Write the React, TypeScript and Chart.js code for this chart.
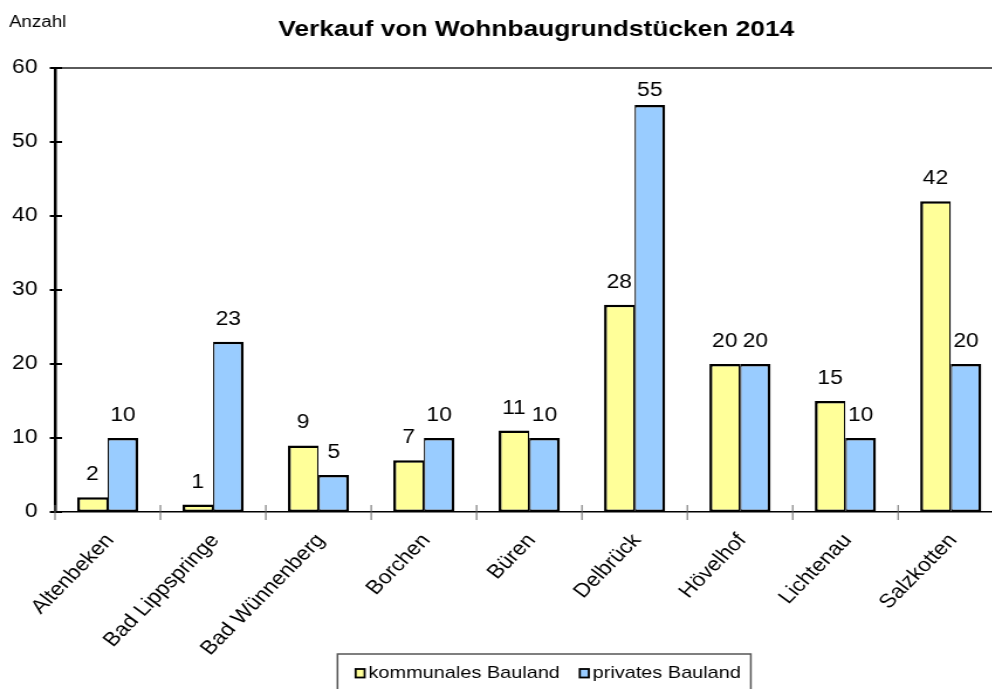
import React, { useEffect, useRef } from "react";
import { Chart, registerables } from "chart.js";

Chart.register(...registerables);

const categories = [
  "Altenbeken",
  "Bad Lippspringe",
  "Bad Wünnenberg",
  "Borchen",
  "Büren",
  "Delbrück",
  "Hövelhof",
  "Lichtenau",
  "Salzkotten",
];
const kommunalesBauland = [2, 1, 9, 7, 11, 28, 20, 15, 42];
const privatesBauland = [10, 23, 5, 10, 10, 55, 20, 10, 20];
const seriesNames = ["kommunales Bauland", "privates Bauland"];
const seriesColors = ["#FFFF99", "#99CCFF"];
const titleText = "Verkauf von Wohnbaugrundstücken 2014";
const yAxisTitle = "Anzahl";
const yMin = 0;
const yMax = 60;
const yStep = 10;

// horizontal stretch of the reference picture
const STRETCH = 1.17;
const W = 950;
const H = 700;
const PLOT_LEFT = 55 / STRETCH;
const PLOT_RIGHT = 1003 / STRETCH;
const FONT = '"Liberation Sans", Arial, Helvetica, sans-serif';
const LABEL_ROT = (49.5 * Math.PI) / 180;

const decoPlugin = {
  id: "deco",
  afterDraw(chart: any) {
    const { ctx, chartArea, scales } = chart;
    const { left, right, top, bottom } = chartArea;
    const x = scales.x;
    const y = scales.y;
    const line = (x1: number, y1: number, x2: number, y2: number) => {
      ctx.beginPath();
      ctx.moveTo(x1, y1);
      ctx.lineTo(x2, y2);
      ctx.stroke();
    };
    ctx.save();
    // top border of plot area
    ctx.strokeStyle = "#5a5a5a";
    ctx.lineWidth = 2;
    line(left, top, right, top);
    // y ticks crossing axis
    ctx.strokeStyle = "#000";
    ctx.lineWidth = 2;
    y.ticks.forEach((t: any) => {
      const py = y.getPixelForValue(t.value);
      line(left - 4.5, py, left + 6, py);
    });
    // x category ticks
    const n = categories.length;
    ctx.strokeStyle = "#666";
    ctx.lineWidth = 1;
    for (let i = 0; i <= n; i++) {
      const px = x.left + (i * x.width) / n;
      line(px, bottom - 7, px, bottom + 8);
    }
    // x category labels (rotated)
    ctx.fillStyle = "#000";
    ctx.font = `19.5px ${FONT}`;
    ctx.textAlign = "right";
    ctx.textBaseline = "middle";
    categories.forEach((c, i) => {
      const px = x.getPixelForValue(i);
      ctx.save();
      ctx.translate(px + 2, bottom + 25);
      ctx.rotate(-LABEL_ROT);
      ctx.fillText(c, 0, 0);
      ctx.restore();
    });
    // data labels
    ctx.font = `19.5px ${FONT}`;
    ctx.textAlign = "center";
    ctx.textBaseline = "alphabetic";
    chart.data.datasets.forEach((ds: any, di: number) => {
      const meta = chart.getDatasetMeta(di);
      meta.data.forEach((el: any, i: number) => {
        const yy = Math.max(el.y - 17, top + 28);
        ctx.fillText(String(ds.data[i]), el.x, yy);
      });
    });
    // title
    ctx.font = `bold 22.5px ${FONT}`;
    ctx.textAlign = "center";
    ctx.fillText(titleText, 536 / STRETCH, 36);
    // axis title
    ctx.font = `16px ${FONT}`;
    ctx.textAlign = "left";
    ctx.fillText(yAxisTitle, 9 / STRETCH, 27);
    // legend
    ctx.font = `17px ${FONT}`;
    ctx.textAlign = "left";
    ctx.textBaseline = "alphabetic";
    const markW = 7.7;
    const markH = 8.5;
    const markGap = 11;
    const itemGap = 17;
    const widths = seriesNames.map((s) => ctx.measureText(s).width);
    const total =
      widths.reduce((a, b) => a + b, 0) + seriesNames.length * markGap + itemGap * (seriesNames.length - 1);
    const center = 548 / STRETCH;
    let cx = center - total / 2;
    const startX = cx;
    const baseY = 677.5;
    seriesNames.forEach((s, i) => {
      ctx.fillStyle = seriesColors[i];
      ctx.fillRect(cx, baseY - markH, markW, markH);
      ctx.strokeStyle = "#000";
      ctx.lineWidth = 1.8;
      ctx.strokeRect(cx, baseY - markH, markW, markH);
      ctx.fillStyle = "#000";
      ctx.fillText(s, cx + markGap, baseY);
      cx += markGap + widths[i] + itemGap;
    });
    const endX = cx - itemGap;
    ctx.strokeStyle = "#555";
    ctx.lineWidth = 1.5;
    ctx.strokeRect(startX - 15.5, 654, endX + 8.5 - (startX - 15.5), H - 654 + 10);
    ctx.restore();
  },
};

export default function App() {
  const ref = useRef<HTMLCanvasElement | null>(null);
  useEffect(() => {
    if (!ref.current) return;
    const chart = new Chart(ref.current, {
      type: "bar",
      data: {
        labels: categories,
        datasets: [
          {
            label: seriesNames[0],
            data: kommunalesBauland,
            backgroundColor: seriesColors[0],
            borderColor: "#000",
            borderWidth: { top: 2.5, left: 2.5, right: 1.25, bottom: 2 } as any,
            borderSkipped: false,
            categoryPercentage: 0.58,
            barPercentage: 1,
          },
          {
            label: seriesNames[1],
            data: privatesBauland,
            backgroundColor: seriesColors[1],
            borderColor: "#000",
            borderWidth: { top: 2.5, left: 1.25, right: 2.5, bottom: 2 } as any,
            borderSkipped: false,
            categoryPercentage: 0.58,
            barPercentage: 1,
          },
        ],
      },
      options: {
        animation: false,
        responsive: false,
        maintainAspectRatio: false,
        devicePixelRatio: 1,
        layout: { padding: { top: 68, left: 0, right: 0, bottom: H - 646.5 } },
        plugins: {
          title: { display: false },
          tooltip: { enabled: false },
          legend: { display: false },
        },
        scales: {
          x: {
            grid: { display: true, drawOnChartArea: false, drawTicks: false },
            border: { display: true, color: "#000", width: 1.5 },
            ticks: { display: false },
            afterFit: (s: any) => {
              s.height = 134.5;
            },
          },
          y: {
            min: yMin,
            max: yMax,
            grid: { display: true, drawOnChartArea: false, drawTicks: false },
            border: { display: true, color: "#000", width: 2.5 },
            ticks: {
              stepSize: yStep,
              color: "#000",
              font: { family: FONT, size: 19.5 },
              padding: 15,
            },
            afterFit: (s: any) => {
              s.width = PLOT_LEFT;
            },
          },
          yRight: {
            type: "linear",
            position: "right",
            display: true,
            grid: { display: false },
            border: { display: false },
            ticks: { display: false },
            afterFit: (s: any) => {
              s.width = W - PLOT_RIGHT;
            },
          },
        },
      },
      plugins: [decoPlugin],
    });
    return () => chart.destroy();
  }, []);
  return (
    <div
      style={{
        position: "fixed",
        left: 0,
        top: 0,
        width: 992,
        height: 689,
        overflow: "hidden",
        background: "#fff",
      }}
    >
      <canvas
        ref={ref}
        width={W}
        height={H}
        style={{ width: `${W * STRETCH}px`, height: `${H}px`, display: "block" }}
      />
    </div>
  );
}
